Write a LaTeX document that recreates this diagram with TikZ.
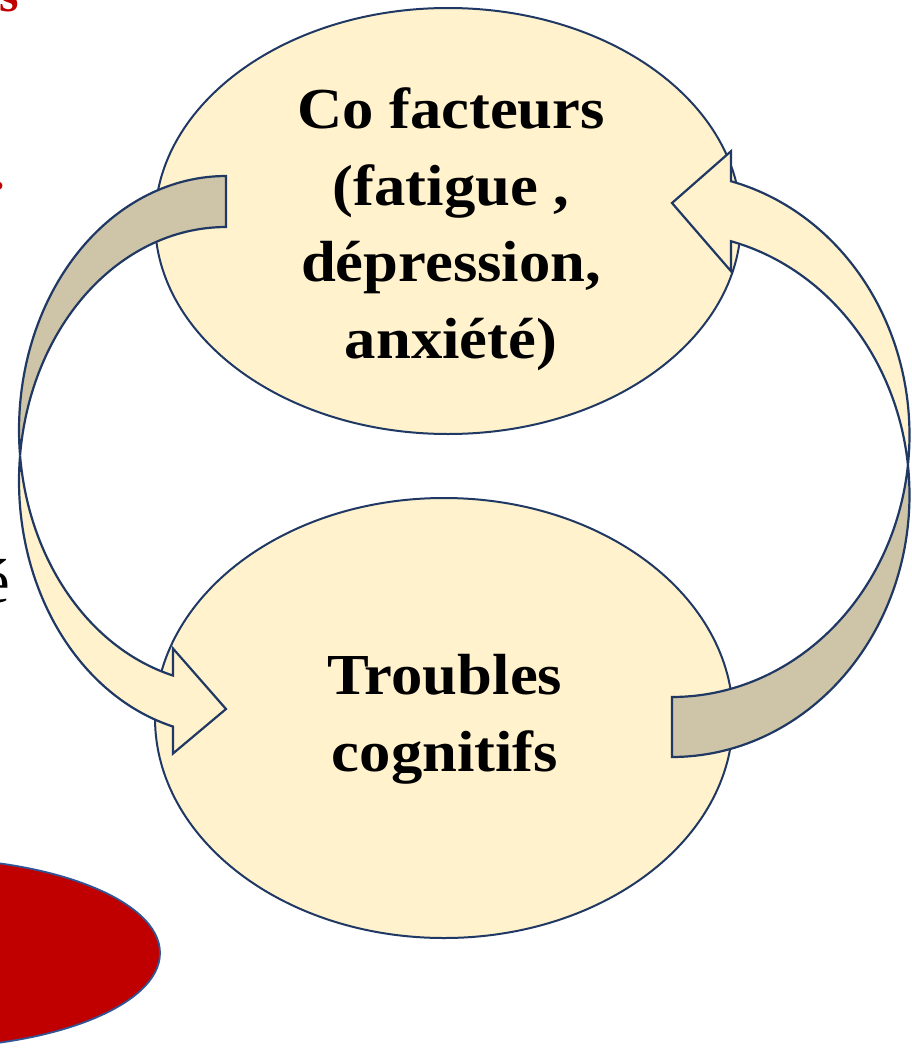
\documentclass[tikz,border=0pt]{standalone}
\usepackage{fontspec}
\setmainfont{Liberation Serif}
\newfontfamily\bubblefont{Liberation Serif}[FakeStretch=1.08]
\usetikzlibrary{shapes.geometric}
\definecolor{cream}{HTML}{FFF2CC}
\definecolor{tanback}{HTML}{CEC4A8}
\definecolor{navy}{HTML}{1F3864}
\definecolor{redfill}{HTML}{C00000}
\definecolor{redline}{HTML}{2F5597}
\begin{document}
\begin{tikzpicture}[x=1pt,y=-1pt,
  bubble/.style={ellipse, draw=navy, line width=2pt, fill=cream, inner sep=0pt},
  bandback/.style={draw=navy, line width=2.2pt, fill=tanback, line join=miter},
  bandfront/.style={draw=navy, line width=2.2pt, fill=cream, line join=miter},
  bubbletext/.style={font=\bubblefont\bfseries\fontsize{58}{76.5}\selectfont, align=center, inner sep=0pt, anchor=base},
  fragment/.style={anchor=base east, inner sep=0pt},
]
\useasboundingbox (0,0) rectangle (912,1052);
\clip (0,0) rectangle (912,1052);

% fragments of neighbouring text
\node[fragment, text=redfill, font=\bfseries\fontsize{50}{60}\selectfont] (fragS) at (19,11) {s};
\node[fragment, text=redfill, font=\bfseries\fontsize{50}{60}\selectfont] (fragD) at (5,189) {.};
\node[fragment, font=\fontsize{62}{70}\selectfont] (fragE) at (10,602) {é};

% red ellipse
\node[ellipse, draw=redline, line width=1.8pt, fill=redfill, minimum width=480pt, minimum height=190pt] (redblob) at (-80,953) {};

% ellipses
\node[bubble, minimum width=586pt, minimum height=426pt] (cof) at (448,221) {};
\node[bubble, minimum width=578pt, minimum height=440pt] (tc) at (444,718) {};
% base anchor = baseline of the last line
\node[bubbletext] (coft) at (451,358) {Co facteurs\\(fatigue ,\\dépression,\\anxiété)};
\node[bubbletext] (tct) at (445,771) {Troubles\\cognitifs};

% left curved arrow (Co facteurs -> Troubles)
\draw[bandback] plot[domain=270:174.24, samples=70] ({226+207*cos(\x)},{430+254*sin(\x)})
  -- plot[domain=185.76:270, samples=70] ({226+207*cos(\x)},{481+254*sin(\x)}) -- cycle;
\draw[bandfront] plot[domain=174.24:104.83, samples=70] ({226+207*cos(\x)},{430+254*sin(\x)})
  -- (173,648.5) -- (226,709) -- (173,753.5)
  -- plot[domain=104.83:185.76, samples=70] ({226+207*cos(\x)},{481+254*sin(\x)}) -- cycle;

% right curved arrow (Troubles -> Co facteurs)
\draw[bandback] plot[domain=90:-6.57, samples=70] ({672+237.5*cos(\x)},{495+262*sin(\x)})
  -- plot[domain=6.57:90, samples=70] ({672+237.5*cos(\x)},{435+262*sin(\x)}) -- cycle;
\draw[bandfront] plot[domain=6.57:-75.62, samples=70] ({672+237.5*cos(\x)},{435+262*sin(\x)})
  -- (731,151.2) -- (672,203) -- (731,271.2)
  -- plot[domain=-75.62:-6.57, samples=70] ({672+237.5*cos(\x)},{495+262*sin(\x)}) -- cycle;
\end{tikzpicture}
\end{document}
